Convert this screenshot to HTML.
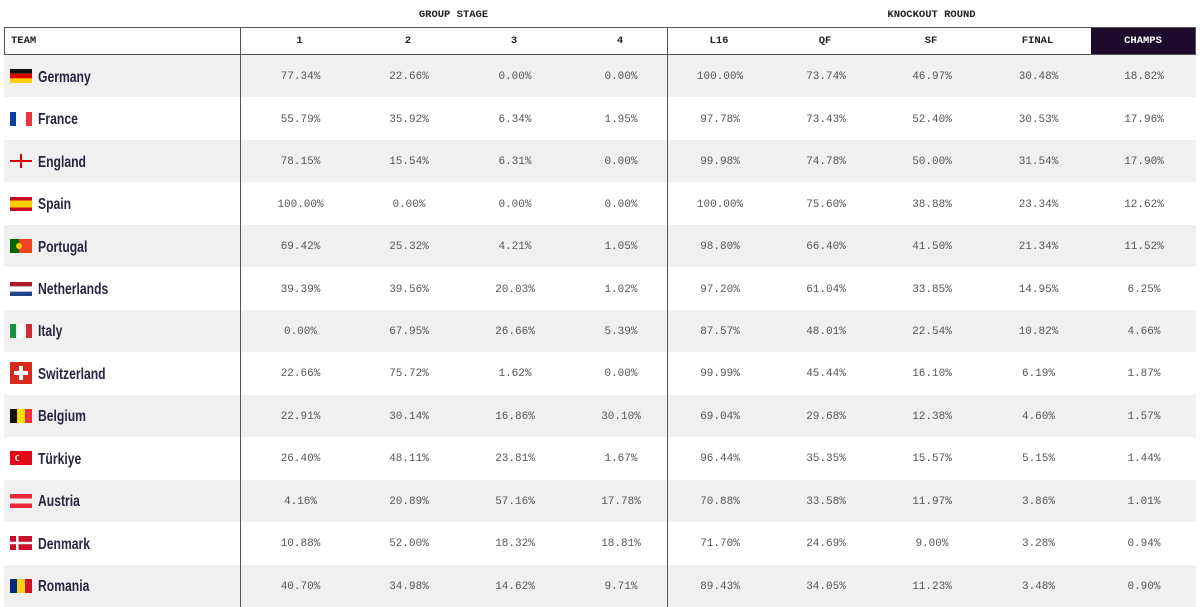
<!DOCTYPE html>
<html><head><meta charset="utf-8"><style>
*{margin:0;padding:0;box-sizing:border-box}
body{width:1200px;height:607px;background:#fff;position:relative;overflow:hidden;font-family:"Liberation Mono",monospace}
.grp{position:absolute;top:9px;font-size:10.5px;font-weight:bold;color:#222;text-align:center}
.hdr{position:absolute;left:4px;top:27px;width:1192px;height:28px;border:1.5px solid #555;display:flex;font-size:10.5px;font-weight:bold;color:#222}
.row{position:absolute;left:4px;width:1192px;height:42.46px;display:flex;align-items:center;font-size:11px;color:#555}
.row.g{background:#f0f0f0}
.c0{width:236px;display:flex;align-items:center;padding-left:6px}
.c{text-align:center;padding-top:2px}
.a1{width:116px;padding-left:5px}.a2{width:106px}.a3{width:106px}.a4{width:99px;padding-left:7px}
.w1{width:107px}.w2{width:106px}.wc{width:104px}
.name{font-family:"Liberation Sans",sans-serif;font-weight:bold;font-size:16px;color:#2a2540;margin-left:6px;display:inline-block;transform:scaleX(0.76);transform-origin:left center;margin-top:3px}
.vl{position:absolute;top:27px;width:1.5px;height:580px;background:#555}
.champ{background:#1e0a2a;color:#fff;height:100%;display:flex;align-items:center;justify-content:center}
svg{display:block}
</style></head><body>
<div class="grp" style="left:240px;width:427px">GROUP STAGE</div>
<div class="grp" style="left:667px;width:529px">KNOCKOUT ROUND</div>
<div class="hdr"><div class="c0" style="padding-left:6px;width:234px;align-items:center">TEAM</div>
<div class="c a1" style="line-height:23px">1</div><div class="c a2" style="line-height:23px">2</div><div class="c a3" style="line-height:23px">3</div><div class="c a4" style="line-height:23px">4</div>
<div class="c w2" style="line-height:23px">L16</div><div class="c w2" style="line-height:23px">QF</div><div class="c w2" style="line-height:23px">SF</div><div class="c w1" style="line-height:23px">FINAL</div><div class="wc"><div class="champ">CHAMPS</div></div></div>

<div class="row g" style="top:55px"><div class="c0"><svg width="22" height="14"><rect y="0" width="22" height="4.7" fill="#111"/><rect y="4.7" width="22" height="4.7" fill="#d00"/><rect y="9.4" width="22" height="4.6" fill="#fc0"/></svg><span class="name">Germany</span></div><div class="c a1">77.34%</div><div class="c a2">22.66%</div><div class="c a3">0.00%</div><div class="c a4">0.00%</div><div class="c w2">100.00%</div><div class="c w2">73.74%</div><div class="c w2">46.97%</div><div class="c w1">30.48%</div><div class="c wc">18.82%</div></div>

<div class="row" style="top:97.46px"><div class="c0"><svg width="22" height="14"><rect width="6" height="14" fill="#0a3ea0"/><rect x="8" width="6" height="14" fill="#fff"/><rect x="16" width="6" height="14" fill="#e83340"/></svg><span class="name">France</span></div><div class="c a1">55.79%</div><div class="c a2">35.92%</div><div class="c a3">6.34%</div><div class="c a4">1.95%</div><div class="c w2">97.78%</div><div class="c w2">73.43%</div><div class="c w2">52.40%</div><div class="c w1">30.53%</div><div class="c wc">17.96%</div></div>

<div class="row g" style="top:139.92px"><div class="c0"><svg width="22" height="14"><rect x="10" width="2" height="14" fill="#d00"/><rect y="6" width="22" height="2" fill="#d00"/></svg><span class="name">England</span></div><div class="c a1">78.15%</div><div class="c a2">15.54%</div><div class="c a3">6.31%</div><div class="c a4">0.00%</div><div class="c w2">99.98%</div><div class="c w2">74.78%</div><div class="c w2">50.00%</div><div class="c w1">31.54%</div><div class="c wc">17.90%</div></div>

<div class="row" style="top:182.38px"><div class="c0"><svg width="22" height="14"><rect width="22" height="14" fill="#c60b1e"/><rect y="3.5" width="22" height="7" fill="#fc0"/></svg><span class="name">Spain</span></div><div class="c a1">100.00%</div><div class="c a2">0.00%</div><div class="c a3">0.00%</div><div class="c a4">0.00%</div><div class="c w2">100.00%</div><div class="c w2">75.60%</div><div class="c w2">38.88%</div><div class="c w1">23.34%</div><div class="c wc">12.62%</div></div>

<div class="row g" style="top:224.84px"><div class="c0"><svg width="22" height="14"><rect width="22" height="14" fill="#e42"/><rect width="9" height="14" fill="#060"/><circle cx="9" cy="7" r="3" fill="#fc0"/></svg><span class="name">Portugal</span></div><div class="c a1">69.42%</div><div class="c a2">25.32%</div><div class="c a3">4.21%</div><div class="c a4">1.05%</div><div class="c w2">98.80%</div><div class="c w2">66.40%</div><div class="c w2">41.50%</div><div class="c w1">21.34%</div><div class="c wc">11.52%</div></div>

<div class="row" style="top:267.3px"><div class="c0"><svg width="22" height="14"><rect width="22" height="4.5" fill="#ae1c28"/><rect y="9.5" width="22" height="4.5" fill="#21468b"/><rect y="4.5" width="22" height="5" fill="#fff" stroke="#ccc" stroke-width=".5"/></svg><span class="name">Netherlands</span></div><div class="c a1">39.39%</div><div class="c a2">39.56%</div><div class="c a3">20.03%</div><div class="c a4">1.02%</div><div class="c w2">97.20%</div><div class="c w2">61.04%</div><div class="c w2">33.85%</div><div class="c w1">14.95%</div><div class="c wc">6.25%</div></div>

<div class="row g" style="top:309.76px"><div class="c0"><svg width="22" height="14"><rect width="6" height="14" fill="#1a9145"/><rect x="8" width="6" height="14" fill="#fff"/><rect x="16" width="6" height="14" fill="#ce2b37"/></svg><span class="name">Italy</span></div><div class="c a1">0.00%</div><div class="c a2">67.95%</div><div class="c a3">26.66%</div><div class="c a4">5.39%</div><div class="c w2">87.57%</div><div class="c w2">48.01%</div><div class="c w2">22.54%</div><div class="c w1">10.82%</div><div class="c wc">4.66%</div></div>

<div class="row" style="top:352.22px"><div class="c0"><svg width="22" height="22" style="margin-top:0"><rect width="22" height="22" fill="#d52b1e"/><rect x="9" y="4" width="4" height="14" fill="#fff"/><rect x="4" y="9" width="14" height="4" fill="#fff"/></svg><span class="name">Switzerland</span></div><div class="c a1">22.66%</div><div class="c a2">75.72%</div><div class="c a3">1.62%</div><div class="c a4">0.00%</div><div class="c w2">99.99%</div><div class="c w2">45.44%</div><div class="c w2">16.10%</div><div class="c w1">6.19%</div><div class="c wc">1.87%</div></div>

<div class="row g" style="top:394.68px"><div class="c0"><svg width="22" height="14"><rect width="7" height="14" fill="#111"/><rect x="7" width="8" height="14" fill="#fd0"/><rect x="15" width="7" height="14" fill="#ef3340"/></svg><span class="name">Belgium</span></div><div class="c a1">22.91%</div><div class="c a2">30.14%</div><div class="c a3">16.86%</div><div class="c a4">30.10%</div><div class="c w2">69.04%</div><div class="c w2">29.68%</div><div class="c w2">12.38%</div><div class="c w1">4.60%</div><div class="c wc">1.57%</div></div>

<div class="row" style="top:437.14px"><div class="c0"><svg width="22" height="14"><rect width="22" height="14" fill="#e30a17"/><circle cx="8" cy="7" r="3" fill="#fff"/><circle cx="9" cy="7" r="2.4" fill="#e30a17"/></svg><span class="name">Türkiye</span></div><div class="c a1">26.40%</div><div class="c a2">48.11%</div><div class="c a3">23.81%</div><div class="c a4">1.67%</div><div class="c w2">96.44%</div><div class="c w2">35.35%</div><div class="c w2">15.57%</div><div class="c w1">5.15%</div><div class="c wc">1.44%</div></div>

<div class="row g" style="top:479.6px"><div class="c0"><svg width="22" height="14"><rect width="22" height="4.5" fill="#ed2939"/><rect y="9.5" width="22" height="4.5" fill="#ed2939"/></svg><span class="name">Austria</span></div><div class="c a1">4.16%</div><div class="c a2">20.89%</div><div class="c a3">57.16%</div><div class="c a4">17.78%</div><div class="c w2">70.88%</div><div class="c w2">33.58%</div><div class="c w2">11.97%</div><div class="c w1">3.86%</div><div class="c wc">1.01%</div></div>

<div class="row" style="top:522.06px"><div class="c0"><svg width="22" height="14"><rect width="22" height="14" fill="#c8102e"/><rect x="6" width="2.5" height="14" fill="#fff"/><rect y="5.8" width="22" height="2.4" fill="#fff"/></svg><span class="name">Denmark</span></div><div class="c a1">10.88%</div><div class="c a2">52.00%</div><div class="c a3">18.32%</div><div class="c a4">18.81%</div><div class="c w2">71.70%</div><div class="c w2">24.69%</div><div class="c w2">9.00%</div><div class="c w1">3.28%</div><div class="c wc">0.94%</div></div>

<div class="row g" style="top:564.52px"><div class="c0"><svg width="22" height="14"><rect width="7" height="14" fill="#002b7f"/><rect x="7" width="8" height="14" fill="#fcd116"/><rect x="15" width="7" height="14" fill="#ce1126"/></svg><span class="name">Romania</span></div><div class="c a1">40.70%</div><div class="c a2">34.98%</div><div class="c a3">14.62%</div><div class="c a4">9.71%</div><div class="c w2">89.43%</div><div class="c w2">34.05%</div><div class="c w2">11.23%</div><div class="c w1">3.48%</div><div class="c wc">0.90%</div></div>

<div class="vl" style="left:239.5px"></div>
<div class="vl" style="left:666.5px"></div>
</body></html>
